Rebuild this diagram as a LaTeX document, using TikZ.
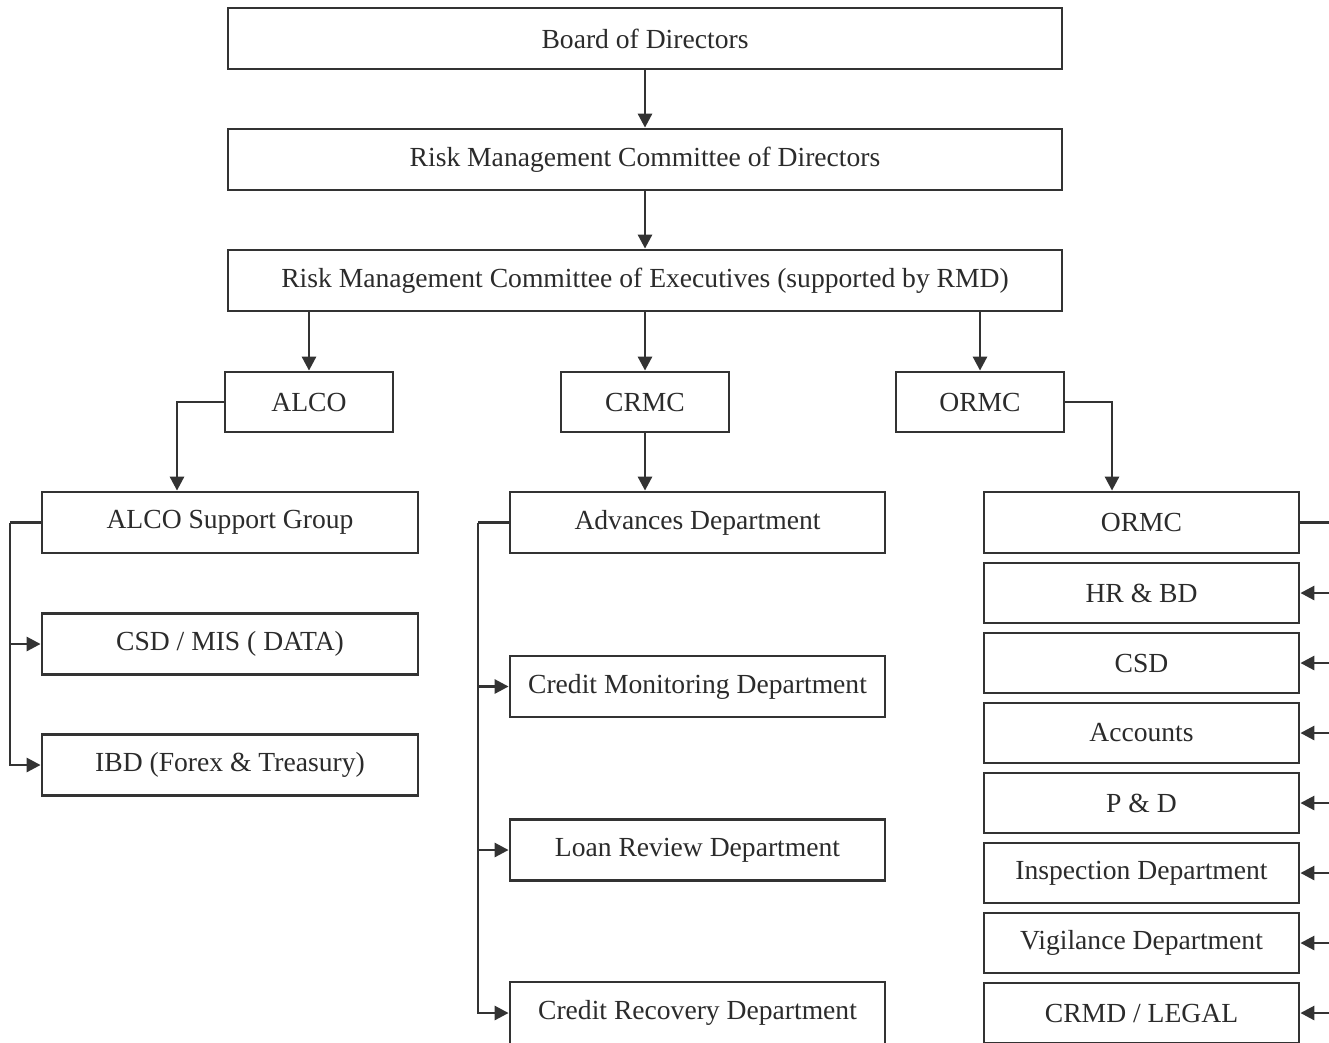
\documentclass[tikz,border=0pt]{standalone}
\usepackage{fontspec}
\setmainfont{Liberation Serif}
\usetikzlibrary{arrows.meta}
\definecolor{ink}{HTML}{333333}
\definecolor{txt}{HTML}{2B2B2B}
\tikzset{
  box/.style={draw=ink, line width=2.8pt, fill=white, inner sep=0pt, text=txt,
    font=\fontsize{27.6}{30}\selectfont},
  wide/.style={box, minimum width=834pt, minimum height=61pt},
  mid/.style={box, minimum width=168pt, minimum height=60pt},
  lbox/.style={box, minimum width=376pt, minimum height=61pt},
  cbox/.style={box, minimum width=375pt, minimum height=61pt},
  rbox/.style={box, minimum width=315pt, minimum height=60pt},
  conn/.style={draw=ink, line width=2.8pt},
  arr/.style={conn, -{Triangle[length=14pt,width=14pt]}},
}
\begin{document}
\begin{tikzpicture}[x=1pt,y=-1pt]
\useasboundingbox[fill=white] (0,0) rectangle (1329,1042);
% top chain
\node[wide] (board) at (645,38.5) {\raisebox{-2pt}{Board of Directors}};
\node[wide] (rmcd) at (645,159.5) {\raisebox{-2pt}{Risk Management Committee of Directors}};
\node[wide] (rmce) at (645,280.5) {\raisebox{-2pt}{Risk Management Committee of Executives (supported by RMD)}};
% committees
\node[mid] (alco) at (309,402) {\raisebox{-2pt}{ALCO}};
\node[mid] (crmc) at (645,402) {\raisebox{-2pt}{CRMC}};
\node[mid] (ormc) at (980,402) {\raisebox{-2pt}{ORMC}};
% ALCO column
\node[lbox] (alcosg) at (230,522.5) {\raisebox{-1pt}{ALCO Support Group}};
\node[lbox] (csdmis) at (230,644) {\raisebox{-2pt}{CSD / MIS ( DATA)}};
\node[lbox] (ibd) at (230,765) {\raisebox{-2pt}{IBD (Forex \& Treasury)}};
% CRMC column
\node[cbox] (adv) at (697.5,522.5) {\raisebox{-1pt}{Advances Department}};
\node[cbox] (cmd) at (697.5,686.5) {\raisebox{-1pt}{Credit Monitoring Department}};
\node[cbox] (lrd) at (697.5,850) {\raisebox{-1pt}{Loan Review Department}};
\node[cbox, minimum height=62pt] (crd) at (697.5,1013) {\raisebox{-1pt}{Credit Recovery Department}};
% ORMC column
\node[rbox, minimum height=61pt] (ormcb) at (1141.5,522.5) {\raisebox{-2pt}{ORMC}};
\node[rbox] (hr) at (1141.5,593) {\raisebox{-2pt}{HR \& BD}};
\node[rbox] (csd) at (1141.5,663) {\raisebox{-2pt}{CSD}};
\node[rbox] (acc) at (1141.5,733) {\raisebox{-2pt}{Accounts}};
\node[rbox] (pd) at (1141.5,803) {\raisebox{-2pt}{P \& D}};
\node[rbox] (insp) at (1141.5,873) {\raisebox{-2pt}{Inspection Department}};
\node[rbox] (vig) at (1141.5,943) {\raisebox{-2pt}{Vigilance Department}};
\node[rbox] (crmd) at (1141.5,1013) {\raisebox{-2pt}{CRMD / LEGAL}};
% top arrows
\draw[arr] (board) -- (rmcd);
\draw[arr] (rmcd) -- (rmce);
\draw[arr] (alco.north |- rmce.south) -- (alco.north);
\draw[arr] (rmce) -- (crmc);
\draw[arr] (ormc.north |- rmce.south) -- (ormc.north);
% committee to first boxes
\draw[arr] (alco.west) -| ([xshift=-53pt]alcosg.north);
\draw[arr] (crmc) -- (crmc.south |- adv.north);
\draw[arr] (ormc.east) -| ([xshift=-29.5pt]ormcb.north);
% left bus
\coordinate (lbus) at (10,522.5);
\draw[conn] (alcosg.west) -- (lbus);
\draw[arr] (lbus) |- (ibd.west);
\draw[arr] (lbus |- csdmis.west) -- (csdmis.west);
% middle bus
\coordinate (mbus) at (478,522.5);
\draw[conn] (adv.west) -- (mbus);
\draw[arr] (mbus) |- (crd.west);
\draw[arr] (mbus |- cmd.west) -- (cmd.west);
\draw[arr] (mbus |- lrd.west) -- (lrd.west);
% right bus
\coordinate (rbus) at (1334,522.5);
\draw[conn] (ormcb.east) -- (rbus) -- (rbus |- crmd.east);
\foreach \n in {hr,csd,acc,pd,insp,vig,crmd}{
  \draw[arr] (rbus |- \n.east) -- (\n.east);
}
\end{tikzpicture}
\end{document}
